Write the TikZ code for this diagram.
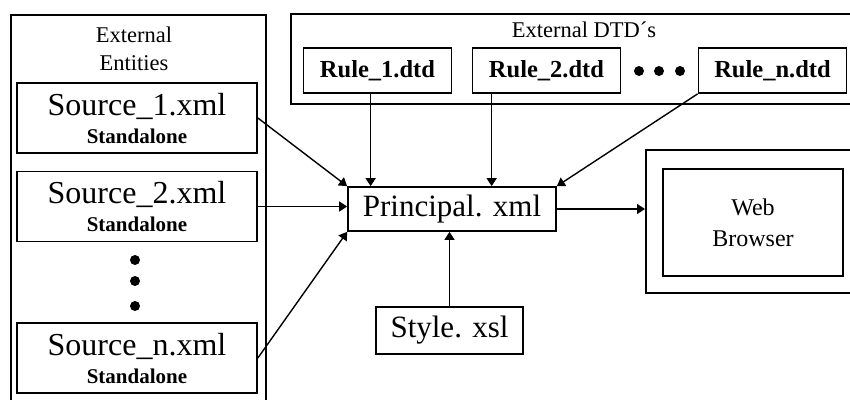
\documentclass[tikz,border=0pt]{standalone}
\usepackage{fontspec}
\setmainfont{Liberation Serif}
\usetikzlibrary{arrows.meta}
\begin{document}
\begin{tikzpicture}[x=1pt,y=-1pt,
  frame/.style={draw,line width=1.6pt,inner sep=0pt,anchor=north west},
  box/.style={draw,line width=1.7pt,inner sep=0pt,align=center},
  arr/.style={line width=1.4pt,-{Triangle[length=8pt,width=10pt]}},
  big/.style={font=\fontsize{31}{31}\selectfont},
  rule/.style={box,minimum width=148pt,minimum height=45pt,font=\bfseries\fontsize{24.5}{24}\selectfont},
  src/.style={box,minimum width=240pt,minimum height=70pt,font=\bfseries\fontsize{21}{28}\selectfont},
  lbl/.style={inner sep=0pt,align=center,font=\fontsize{22.5}{28}\selectfont}
]
\clip (0,0) rectangle (850,399);
\fill[white] (0,0) rectangle (850,399);
% outer frames
\node[frame,minimum width=255pt,minimum height=420pt] (ext) at (10,14) {};
\node[frame,minimum width=600pt,minimum height=90pt] (dtd) at (290,13) {};
\node[frame,minimum width=240pt,minimum height=143pt] (wbo) at (645,149) {};
% labels
\node[lbl] (extl) at (134,49) {External\\Entities};
\node[lbl,anchor=base] (dtdl) at (584,37) {External DTD´s};
% sources
\node[src] (s1) at (137,118) {{\mdseries\fontsize{32}{28}\selectfont Source\_1.xml}\\Standalone};
\node[src] (s2) at (137,206.5) {{\mdseries\fontsize{32}{28}\selectfont Source\_2.xml}\\Standalone};
\node[src] (sn) at (137,358) {{\mdseries\fontsize{32}{28}\selectfont Source\_n.xml}\\Standalone};
\foreach \y in {260,281,306} \fill (135,\y) circle (5pt);
% rules
\node[rule] (r1) at (377.5,70.5) {Rule\_1.dtd};
\node[rule] (r2) at (546.5,70.5) {Rule\_2.dtd};
\node[rule] (rn) at (772.5,70.5) {Rule\_n.dtd};
\foreach \x in {639,659,680} \fill (\x,71) circle (5pt);
% principal and style
\node[box,big,minimum width=208pt,minimum height=44pt] (pr) at (452,209) {Principal. xml};
\node[box,big,minimum width=147pt,minimum height=47pt] (st) at (449.5,330.5) {Style. xsl};
% browser
\node[box,minimum width=180pt,minimum height=107pt,font=\fontsize{24}{31}\selectfont] (wb) at (753,222.5) {Web\\Browser};
% arrows
\draw[arr] (s1.east) -- (pr.north west);
\draw[arr] (s2.east) -- (s2.east -| pr.west);
\draw[arr] (sn.east) -- (pr.south west);
\draw[arr] ([xshift=68pt]r1.south west) -- ([xshift=68pt]r1.south west |- pr.north);
\draw[arr] ([xshift=20pt]r2.south west) -- ([xshift=20pt]r2.south west |- pr.north);
\draw[arr] (rn.south west) -- (pr.north east);
\draw[arr] (st.north) -- (st.north |- pr.south);
\draw[arr] (pr.east) -- (pr.east -| wbo.west);
\end{tikzpicture}
\end{document}
